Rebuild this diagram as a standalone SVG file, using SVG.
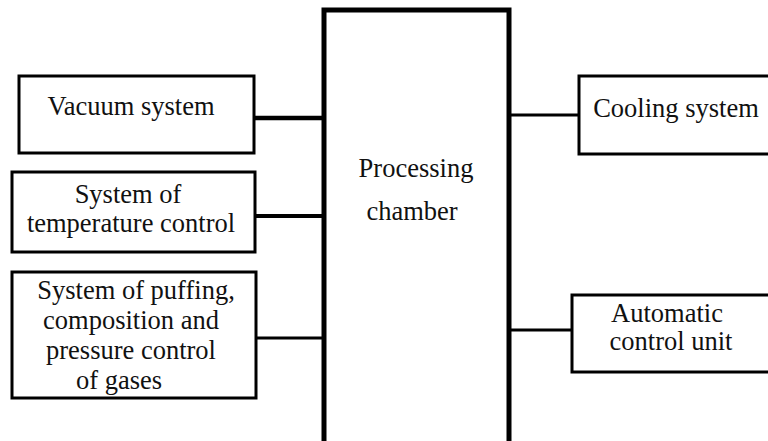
<svg xmlns="http://www.w3.org/2000/svg" width="768" height="441" viewBox="0 0 768 441">
<style>
.box{fill:#fff;stroke:#000;stroke-width:3}
.chamber{fill:#fff;stroke:#000;stroke-width:5}
.t{font-family:'Liberation Serif','Times New Roman','DejaVu Serif',serif;font-size:26.5px;fill:#111;text-anchor:middle}
.c{stroke:#000;fill:none}
</style>
<rect width="768" height="441" fill="#fff"/>
<g id="connectors">
<line class="c" x1="254" y1="118" x2="324" y2="118" stroke-width="4.5"/>
<line class="c" x1="255" y1="216" x2="324" y2="216" stroke-width="4"/>
<line class="c" x1="256" y1="338" x2="324" y2="338" stroke-width="3"/>
<line class="c" x1="509" y1="115" x2="579" y2="115" stroke-width="3"/>
<line class="c" x1="509" y1="330" x2="572" y2="330" stroke-width="3"/>
</g>
<g id="chamber">
<rect class="chamber" x="324" y="10" width="185" height="440"/>
<text class="t" x="416" y="177">Processing</text>
<text class="t" x="412" y="220">chamber</text>
</g>
<g id="vacuum">
<rect class="box" x="19" y="76" width="235" height="77"/>
<text class="t" x="131" y="115">Vacuum system</text>
</g>
<g id="temperature">
<rect class="box" x="12" y="172" width="243" height="80"/>
<text class="t" x="128" y="203">System of</text>
<text class="t" x="131" y="232">temperature control</text>
</g>
<g id="gases">
<rect class="box" x="12" y="272" width="244" height="126"/>
<text class="t" x="136" y="299">System of puffing,</text>
<text class="t" x="131" y="329">composition and</text>
<text class="t" x="131" y="359">pressure control</text>
<text class="t" x="119" y="389">of gases</text>
</g>
<g id="cooling">
<rect class="box" x="579" y="76" width="200" height="78"/>
<text class="t" x="676" y="117">Cooling system</text>
</g>
<g id="automatic">
<rect class="box" x="572" y="295" width="210" height="77"/>
<text class="t" x="667" y="322">Automatic</text>
<text class="t" x="671" y="350">control unit</text>
</g>
</svg>
